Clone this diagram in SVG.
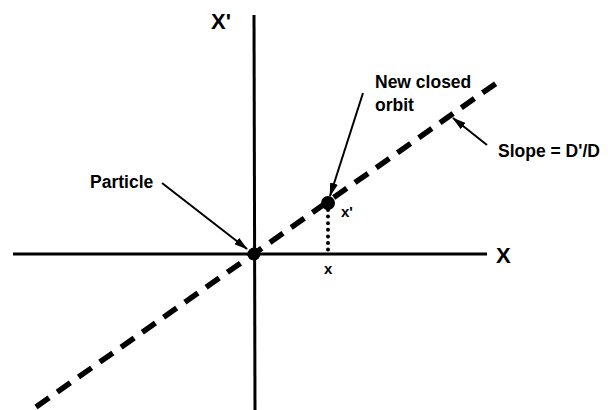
<svg xmlns="http://www.w3.org/2000/svg" width="608" height="410" viewBox="0 0 608 410">
<defs>
<style>
.lbl{font-family:"Liberation Sans",Arial,sans-serif;font-weight:bold;fill:#000;}
.ax{stroke:#000;stroke-width:3;fill:none;}
.ptr{stroke:#000;stroke-width:2;fill:none;}
</style>
<marker id="ah" viewBox="0 0 14 8" refX="13" refY="4" markerWidth="14" markerHeight="8" markerUnits="userSpaceOnUse" orient="auto">
<path d="M0,0 L14,4 L0,8 z" fill="#000"/>
</marker>
</defs>
<rect width="608" height="410" fill="#fff"/>
<g id="axes">
<line class="ax" x1="254" y1="15" x2="255" y2="410"/>
<line class="ax" x1="13" y1="254" x2="487" y2="254"/>
<text class="lbl" x="211" y="29" font-size="22">X'</text>
<text class="lbl" x="496" y="263" font-size="22">X</text>
</g>
<g id="connectors">
<line x1="36" y1="407" x2="498" y2="82" stroke="#000" stroke-width="5.5" stroke-dasharray="16 10"/>
<line x1="328" y1="210" x2="328" y2="253" stroke="#000" stroke-width="4" stroke-linecap="round" stroke-dasharray="0 6.6"/>
<line class="ptr" x1="162" y1="183" x2="247" y2="249" marker-end="url(#ah)"/>
<line class="ptr" x1="363" y1="93" x2="330" y2="196" marker-end="url(#ah)"/>
<line class="ptr" x1="487" y1="145" x2="453" y2="118" marker-end="url(#ah)"/>
</g>
<g id="particle">
<circle cx="254" cy="254" r="6.5" fill="#000"/>
<text class="lbl" x="90" y="188" font-size="17.5">Particle</text>
</g>
<g id="orbit">
<circle cx="328" cy="203" r="7" fill="#000"/>
<text class="lbl" x="375" y="88" font-size="17.5">New closed</text>
<text class="lbl" x="375" y="111" font-size="17.5">orbit</text>
<text class="lbl" x="341" y="217" font-size="15">x'</text>
<text class="lbl" x="324" y="274" font-size="15">x</text>
</g>
<g id="slope">
<text class="lbl" x="498" y="157" font-size="17.5">Slope = D'/D</text>
</g>
</svg>
